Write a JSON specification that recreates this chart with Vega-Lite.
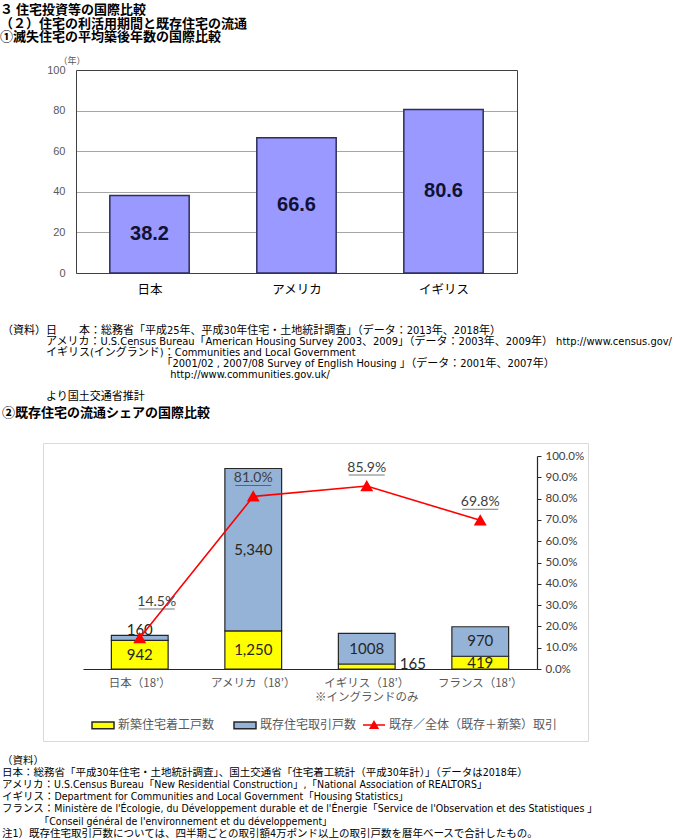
{
  "$schema": "https://vega.github.io/schema/vega-lite/v6.json",
  "background": "white",
  "padding": {"left": 0, "top": 4, "right": 0, "bottom": 0},
  "columns": 1,
  "bounds": "full",
  "spacing": 28,
  "resolve": {
    "scale": {"fill": "independent", "stroke": "independent"},
    "legend": {"fill": "independent", "stroke": "independent"}
  },
  "title": {
    "text": [
      "（資料）",
      "日本：総務省「平成30年住宅・土地統計調査」、国土交通省「住宅着工統計（平成30年計）」（データは2018年）",
      "アメリカ：U.S.Census Bureau「New Residential Construction」,「National Association of REALTORS」",
      "イギリス：Department for Communities and Local Government「Housing Statistics」",
      "フランス：Ministère de l'Écologie, du Développement durable et de l'Énergie「Service de l'Observation et des Statistiques 」",
      "\u200b　　　　「Conseil général de l'environnement et du développement」",
      "注1）既存住宅取引戸数については、四半期ごとの取引額4万ポンド以上の取引戸数を暦年ベースで合計したもの。"
    ],
    "orient": "bottom",
    "anchor": "start",
    "frame": "group",
    "offset": 14,
    "dx": -41,
    "font": "Liberation Sans Narrow, DejaVu Sans Condensed, Noto Sans CJK JP",
    "fontSize": 10.5,
    "fontWeight": "normal",
    "lineHeight": 12.2,
    "color": "black"
  },
  "datasets": {
    "age": [
      {"country": "日本", "years": 38.2},
      {"country": "アメリカ", "years": 66.6},
      {"country": "イギリス", "years": 80.6}
    ],
    "bars": [
      {"country": "日本（18’）", "series": "新築住宅着工戸数", "value": 942, "label": "942"},
      {"country": "日本（18’）", "series": "既存住宅取引戸数", "value": 160, "label": "160"},
      {"country": "アメリカ（18’）", "series": "新築住宅着工戸数", "value": 1250, "label": "1,250"},
      {"country": "アメリカ（18’）", "series": "既存住宅取引戸数", "value": 5340, "label": "5,340"},
      {"country": "イギリス（18’）|※イングランドのみ", "series": "新築住宅着工戸数", "value": 165, "label": "165"},
      {"country": "イギリス（18’）|※イングランドのみ", "series": "既存住宅取引戸数", "value": 1008, "label": "1008"},
      {"country": "フランス（18’）", "series": "新築住宅着工戸数", "value": 419, "label": "419"},
      {"country": "フランス（18’）", "series": "既存住宅取引戸数", "value": 970, "label": "970"}
    ],
    "share": [
      {"country": "日本（18’）", "series": "既存／全体（既存＋新築）取引", "share": 0.145},
      {"country": "アメリカ（18’）", "series": "既存／全体（既存＋新築）取引", "share": 0.81},
      {"country": "イギリス（18’）|※イングランドのみ", "series": "既存／全体（既存＋新築）取引", "share": 0.859},
      {"country": "フランス（18’）", "series": "既存／全体（既存＋新築）取引", "share": 0.698}
    ]
  },
  "concat": [
    {
      "width": 474,
      "height": 203,
      "view": {"stroke": null},
      "title": {
        "text": [
          "３ 住宅投資等の国際比較",
          "（２）住宅の利活用期間と既存住宅の流通",
          "①滅失住宅の平均築後年数の国際比較"
        ],
        "subtitle": "\u200b　　　　　　　（年）",
        "anchor": "start",
        "frame": "group",
        "dx": -43,
        "offset": -2,
        "font": "Noto Sans CJK JP",
        "fontSize": 13,
        "fontWeight": "bold",
        "lineHeight": 13.5,
        "color": "black",
        "subtitleFont": "Noto Sans CJK JP",
        "subtitleFontSize": 9,
        "subtitleFontWeight": "normal",
        "subtitleColor": "#595959",
        "subtitlePadding": 13
      },
      "data": {"name": "age"},
      "encoding": {
        "x": {
          "field": "country",
          "type": "nominal",
          "sort": null,
          "scale": {"range": [33, 474], "paddingInner": 0.46, "paddingOuter": 0.23},
          "axis": {
            "title": null,
            "labelAngle": 0,
            "labelFont": "Noto Sans CJK JP",
            "labelFontSize": 12.5,
            "labelColor": "black",
            "labelPadding": 14,
            "tickBand": "extent",
            "tickSize": -4,
            "tickColor": "#808080",
            "domain": true,
            "domainColor": "#404040",
            "domainWidth": 1
          }
        }
      },
      "layer": [
        {
          "mark": {"type": "bar", "color": "#9999FF", "stroke": "#2e2e5c", "strokeWidth": 1.5},
          "encoding": {
            "y": {
              "field": "years",
              "type": "quantitative",
              "scale": {"domain": [0, 100], "nice": false},
              "axis": {
                "orient": "left",
                "offset": -33,
                "values": [0, 20, 40, 60, 80, 100],
                "title": null,
                "labelFont": "Liberation Sans",
                "labelFontSize": 11,
                "labelColor": "#595959",
                "labelPadding": 11,
                "ticks": false,
                "domain": true,
                "domainColor": "#404040",
                "grid": true,
                "gridColor": {"condition": {"test": "datum.value == 100", "value": "#404040"}, "value": "#a6a6a6"}
              }
            }
          }
        },
        {
          "transform": [
            {"stack": "years", "groupby": ["country"], "as": ["v0", "v1"]},
            {"fold": ["v0", "v1"], "as": ["edge", "pos"]}
          ],
          "mark": {"type": "text", "font": "Liberation Sans", "fontSize": 20, "fontWeight": "bold", "color": "#111133", "baseline": "middle"},
          "encoding": {
            "y": {
              "aggregate": "mean",
              "field": "pos",
              "type": "quantitative",
              "scale": {"domain": [0, 100], "nice": false},
              "axis": {
                "orient": "right",
                "title": null,
                "labels": false,
                "ticks": false,
                "grid": false,
                "domain": true,
                "domainColor": "#404040"
              }
            },
            "text": {"field": "years", "type": "quantitative", "format": ".1f"}
          }
        }
      ],
      "resolve": {"axis": {"y": "independent"}}
    },
    {
      "width": 545,
      "height": 298,
      "view": {"stroke": "#d9d9d9", "strokeWidth": 1},
      "title": {
        "text": [
          "（資料）日　　本：総務省「平成25年、平成30年住宅・土地統計調査」（データ：2013年、2018年）",
          "\u200b　　　　アメリカ：U.S.Census Bureau「American Housing Survey 2003、2009」（データ：2003年、2009年） http://www.census.gov/",
          "\u200b　　　　イギリス(イングランド)：Communities and Local Government",
          "\u200b　　　　　　　　　　　　　　　「2001/02 , 2007/08 Survey of English Housing 」（データ：2001年、2007年）",
          "\u200b　　　　　　　　　　　　　　　 http://www.communities.gov.uk/",
          "\u200b",
          "\u200b　　　　より国土交通省推計"
        ],
        "subtitle": "②既存住宅の流通シェアの国際比較",
        "anchor": "start",
        "frame": "group",
        "dx": -41,
        "offset": 23,
        "font": "Liberation Sans Narrow, DejaVu Sans Condensed, Noto Sans CJK JP",
        "fontSize": 11,
        "fontWeight": "normal",
        "lineHeight": 11,
        "color": "black",
        "subtitleFont": "Noto Sans CJK JP",
        "subtitleFontSize": 13,
        "subtitleFontWeight": "bold",
        "subtitleColor": "black",
        "subtitlePadding": 5
      },
      "encoding": {
        "x": {
          "field": "country",
          "type": "nominal",
          "scale": {
            "domain": ["日本（18’）", "アメリカ（18’）", "イギリス（18’）|※イングランドのみ", "フランス（18’）"],
            "range": [40, 494],
            "paddingInner": 0.5,
            "paddingOuter": 0.25
          },
          "axis": {
            "title": null,
            "orient": "bottom",
            "offset": -72,
            "labelAngle": 0,
            "labelExpr": "split(datum.label, '|')",
            "labelFont": "Noto Sans CJK JP",
            "labelFontSize": 11.5,
            "labelLineHeight": 14,
            "labelColor": "#595959",
            "labelPadding": 8,
            "ticks": false,
            "domainColor": "#262626",
            "domainWidth": 1.2
          }
        }
      },
      "layer": [
        {
          "data": {"name": "bars"},
          "transform": [
            {"stack": "value", "groupby": ["country"], "sort": [{"field": "series", "order": "ascending"}], "as": ["v0", "v1"]}
          ],
          "layer": [
            {
              "mark": {"type": "bar", "stroke": "#262626", "strokeWidth": 1.2, "opacity": 1},
              "encoding": {
                "y": {
                  "field": "v0",
                  "type": "quantitative",
                  "scale": {"domain": [0, 7000], "range": [226, 13], "nice": false},
                  "axis": {
                    "title": null,
                    "orient": "left",
                    "offset": -40,
                    "values": [0, 1000, 2000, 3000, 4000, 5000, 6000, 7000],
                    "ticks": false,
                    "domainColor": "#262626",
                    "domainWidth": 1.2,
                    "labelFont": "Lato",
                    "labelFontSize": 12,
                    "labelColor": "#404040",
                    "labelPadding": 9,
                    "grid": true,
                    "gridColor": {"condition": {"test": "datum.value == 7000", "value": "#262626"}, "value": "#d9d9d9"},
                    "gridWidth": {"condition": {"test": "datum.value == 7000", "value": 1.2}, "value": 1}
                  }
                },
                "y2": {"field": "v1"},
                "fill": {
                  "field": "series",
                  "type": "nominal",
                  "scale": {
                    "domain": ["新築住宅着工戸数", "既存住宅取引戸数"],
                    "range": ["#FFFF00", "#95B3D7"]
                  },
                  "legend": {
                    "title": null,
                    "orient": "none",
                    "legendX": 48,
                    "legendY": 270,
                    "direction": "horizontal",
                    "labelFont": "Noto Sans CJK JP",
                    "labelFontSize": 12,
                    "labelColor": "#595959",
                    "labelOffset": 3,
                    "labelLimit": 300,
                    "columnPadding": 16,
                    "symbolType": "M-1,-0.3H1V0.3H-1Z",
                    "symbolSize": 484,
                    "symbolStrokeColor": "#262626",
                    "symbolStrokeWidth": 1.5,
                    "symbolOpacity": 1
                  }
                }
              }
            },
            {
              "transform": [
                {"filter": "datum.value > 400"},
                {"fold": ["v0", "v1"], "as": ["edge", "pos"]}
              ],
              "mark": {"type": "text", "font": "Lato", "fontSize": 15, "color": "#262626", "baseline": "middle"},
              "encoding": {
                "y": {"aggregate": "mean", "field": "pos", "type": "quantitative", "scale": {"domain": [0, 7000], "range": [226, 13], "nice": false}, "axis": null},
                "text": {"field": "label", "type": "nominal"}
              }
            },
            {
              "transform": [{"filter": "datum.country == '日本（18’）' && datum.series == '既存住宅取引戸数'"}],
              "mark": {"type": "text", "font": "Lato", "fontSize": 15, "color": "#262626", "baseline": "alphabetic"},
              "encoding": {
                "y": {"field": "v1", "type": "quantitative", "scale": {"domain": [0, 7000], "range": [226, 13], "nice": false}, "axis": null},
                "text": {"field": "label", "type": "nominal"}
              }
            },
            {
              "transform": [{"filter": "datum.series == '新築住宅着工戸数' && datum.value < 200"}],
              "mark": {"type": "text", "font": "Lato", "fontSize": 15, "color": "#262626", "baseline": "middle", "align": "left", "dx": 33},
              "encoding": {
                "y": {"field": "v1", "type": "quantitative", "scale": {"domain": [0, 7000], "range": [226, 13], "nice": false}, "axis": null},
                "text": {"field": "label", "type": "nominal"}
              }
            }
          ]
        },
        {
          "data": {"name": "share"},
          "encoding": {
            "y": {
              "field": "share",
              "type": "quantitative",
              "scale": {"domain": [0, 1], "range": [226, 13], "nice": false},
              "axis": {
                "title": null,
                "orient": "right",
                "offset": -51,
                "values": [0, 0.1, 0.2, 0.3, 0.4, 0.5, 0.6, 0.7, 0.8, 0.9, 1],
                "format": ".1%",
                "grid": false,
                "tickSize": 4,
                "tickColor": "#262626",
                "domainColor": "#262626",
                "domainWidth": 1.2,
                "labelFont": "Lato",
                "labelFontSize": 11.5,
                "labelColor": "#404040",
                "labelPadding": 4
              }
            }
          },
          "layer": [
            {
              "mark": {"type": "line", "color": "#FF0000", "strokeWidth": 1.6, "point": {"shape": "triangle-up", "size": 90, "filled": true, "color": "#FF0000"}},
              "encoding": {
                "order": {"value": null},
                "stroke": {
                  "field": "series",
                  "type": "nominal",
                  "scale": {"domain": ["既存／全体（既存＋新築）取引"], "range": ["#FF0000"]},
                  "legend": {
                    "title": null,
                    "orient": "none",
                    "legendX": 319,
                    "legendY": 270,
                    "labelFont": "Noto Sans CJK JP",
                    "labelFontSize": 12,
                    "labelColor": "#595959",
                    "labelOffset": 3,
                    "labelLimit": 300,
                    "symbolType": "M-1,0H1M-0.35,0.3L0,-0.32L0.35,0.3Z",
                    "symbolSize": 484,
                    "symbolFillColor": "#FF0000",
                    "symbolStrokeWidth": 1.5,
                    "symbolOpacity": 1
                  }
                }
              }
            },
            {
              "transform": [{"filter": "datum.country != '日本（18’）'"}],
              "mark": {"type": "text", "font": "Lato", "fontSize": 14, "color": "#404040", "baseline": "middle", "dy": -18},
              "encoding": {"text": {"field": "share", "type": "quantitative", "format": ".1%"}}
            },
            {
              "transform": [{"filter": "datum.country == '日本（18’）'"}],
              "mark": {"type": "text", "font": "Lato", "fontSize": 14, "color": "#404040", "baseline": "middle", "dy": -36, "dx": 17},
              "encoding": {"text": {"field": "share", "type": "quantitative", "format": ".1%"}}
            },
            {
              "transform": [{"filter": "datum.country != '日本（18’）'"}],
              "mark": {"type": "tick", "size": 36, "thickness": 1, "color": "#404040", "yOffset": -11}
            },
            {
              "transform": [{"filter": "datum.country == '日本（18’）'"}],
              "mark": {"type": "tick", "size": 36, "thickness": 1, "color": "#404040", "yOffset": -29, "xOffset": 17}
            }
          ]
        }
      ],
      "resolve": {"scale": {"y": "independent"}}
    }
  ]
}
